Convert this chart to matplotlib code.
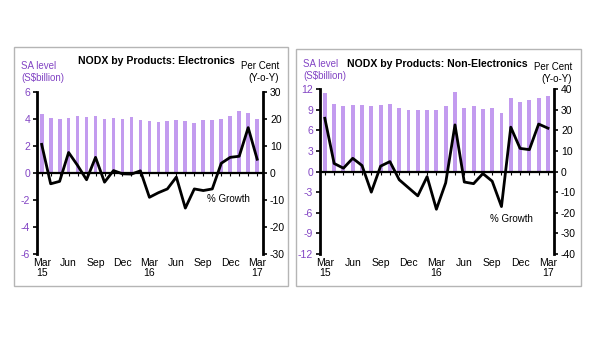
import numpy as np
import matplotlib
matplotlib.use("Agg")
import matplotlib.pyplot as plt
from matplotlib.patches import Rectangle

plt.rcParams["font.family"] = ["Liberation Sans", "DejaVu Sans"]
plt.rcParams["axes.unicode_minus"] = False  # plain hyphens like the source chart

# ---------------------------------------------------------------------------
# Data (Mar 2015 .. Mar 2017, monthly)
# ---------------------------------------------------------------------------
tick_labels = ["Mar\n15", "Jun", "Sep", "Dec", "Mar\n16", "Jun", "Sep", "Dec", "Mar\n17"]

elec_level = [4.4, 4.08, 4.0, 4.08, 4.2, 4.12, 4.2, 4.0, 4.08, 4.0, 4.12, 3.9, 3.83,
              3.78, 3.88, 3.93, 3.83, 3.7, 3.93, 3.95, 4.0, 4.25, 4.62, 4.45, 4.02]
elec_growth = [10.6, -4.0, -3.1, 7.6, 2.8, -2.5, 5.8, -3.4, 0.9, -0.3, -0.4, 0.8, -9.0,
               -7.3, -5.9, -1.5, -13.0, -5.9, -6.5, -5.9, 3.6, 5.8, 6.2, 16.8, 5.1]

nonelec_level = [11.42, 9.88, 9.59, 9.64, 9.73, 9.59, 9.69, 9.88, 9.2, 8.92, 9.01, 9.01, 9.01,
                 9.54, 11.57, 9.3, 9.49, 9.06, 9.25, 8.58, 10.65, 10.07, 10.41, 10.75, 10.94]
nonelec_growth = [25.8, 3.9, 1.6, 6.4, 2.9, -10.0, 2.6, 4.8, -4.0, -7.9, -11.8, -2.5, -18.3,
                  -5.5, 22.6, -5.1, -5.9, -1.0, -4.7, -17.0, 21.5, 11.2, 10.6, 23.0, 21.0]

BAR = "#c39bef"
PURPLE = "#8244c4"
W, H = 600, 360


def px_rect(x0, y0, x1, y1):
    # pixel box (top-left origin) -> figure fraction [l, b, w, h]
    return [x0 / W, 1 - y1 / H, (x1 - x0) / W, (y1 - y0) / H]


def panel(fig, box, level, growth, lmax, lstep, rmax, rstep, title, tpos, text_top,
          grow_pos, frame):
    fig.patches.append(Rectangle((frame[0] / W, 1 - frame[3] / H),
                                 (frame[2] - frame[0]) / W, (frame[3] - frame[1]) / H,
                                 transform=fig.transFigure, fill=False,
                                 edgecolor="#b5b5b5", linewidth=1.0))
    ax = fig.add_axes(px_rect(*box))
    x = np.arange(len(level))
    ax.bar(x, level, width=0.42, color=BAR, zorder=1)
    ax.set_ylim(-lmax, lmax)
    ax.set_yticks(np.arange(-lmax, lmax + 0.1, lstep))
    ax.set_xlim(-0.52, 24.65)
    ax.set_xticks(np.arange(0, 25, 3))
    ax.set_xticklabels(tick_labels, fontsize=7.5, linespacing=1.0)
    ax.tick_params(axis="x", length=0, pad=3)
    ax.tick_params(axis="y", labelsize=7.5, labelcolor=PURPLE, length=3, width=1.2, pad=2)
    for s in ["top", "bottom", "right"]:
        ax.spines[s].set_visible(False)
    ax.spines["left"].set_linewidth(2)

    ax2 = ax.twinx()
    ax2.axhline(0, color="black", linewidth=1.6, zorder=3)
    ax2.plot(x, [0] * len(x), linestyle="none", marker=3, markersize=2.5,
             color="black", markeredgewidth=0.8, zorder=3)
    ax2.plot(x, growth, color="black", linewidth=2.0, zorder=4)
    ax2.set_ylim(-rmax, rmax)
    ax2.set_yticks(np.arange(-rmax, rmax + 0.1, rstep))
    ax2.tick_params(axis="y", labelsize=7.5, length=3, width=1.2, pad=2)
    for s in ["top", "bottom", "left"]:
        ax2.spines[s].set_visible(False)
    ax2.spines["right"].set_linewidth(2)

    fig.text(tpos[0] / W, 1 - tpos[1] / H, title, fontsize=7.6, fontweight="bold",
             ha="center", va="center")
    fig.text((frame[0] + 7) / W, 1 - text_top[0] / H, "SA level\n(S$billion)",
             fontsize=7, color=PURPLE, ha="left", va="top", linespacing=1.2)
    fig.text((frame[2] - 9) / W, 1 - text_top[1] / H, "Per Cent\n(Y-o-Y)",
             fontsize=7, ha="right", va="top", linespacing=1.2, multialignment="right")
    fig.text(grow_pos[0] / W, 1 - grow_pos[1] / H, "% Growth", fontsize=7,
             ha="left", va="center")


fig = plt.figure(figsize=(6, 3.6), dpi=100)
fig.patch.set_facecolor("white")

panel(fig, (37, 92, 263, 254), elec_level, elec_growth, 6, 2, 30, 10,
      "NODX by Products: Electronics", (156, 61), (61, 61), (207, 199), (14, 47, 288, 286))
panel(fig, (320, 89, 554, 254), nonelec_level, nonelec_growth, 12, 3, 40, 10,
      "NODX by Products: Non-Electronics", (437, 64), (59, 62), (490, 219), (296, 49, 581, 286))

fig.savefig("out.png", dpi=100)
